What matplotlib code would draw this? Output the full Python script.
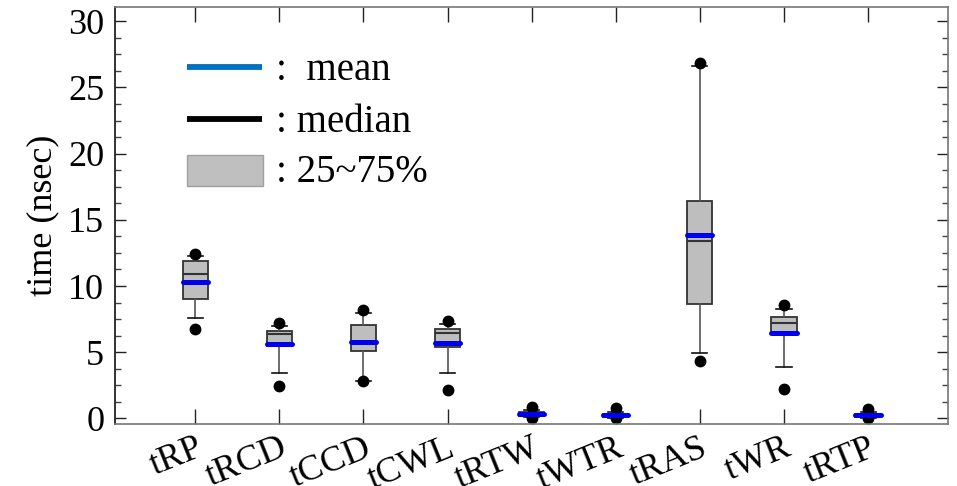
import matplotlib
matplotlib.use("Agg")
import matplotlib.pyplot as plt
from matplotlib.ticker import MultipleLocator
from matplotlib.patches import Rectangle
from matplotlib.lines import Line2D
from matplotlib.transforms import ScaledTranslation

plt.rcParams['font.family'] = ['Liberation Serif', 'DejaVu Serif']

categories = ['tRP', 'tRCD', 'tCCD', 'tCWL', 'tRTW', 'tWTR', 'tRAS', 'tWR', 'tRTP']
q1 = [9.04, 5.45, 5.09, 5.42, 0.18, 0.14, 8.62, 6.38, 0.12]
med = [10.93, 6.35, 5.80, 6.48, 0.32, 0.24, 13.40, 7.21, 0.22]
q3 = [11.90, 6.60, 7.06, 6.73, 0.48, 0.36, 16.39, 7.66, 0.34]
mean = [10.28, 5.65, 5.77, 5.70, 0.34, 0.24, 13.83, 6.48, 0.24]
whislo = [7.56, 3.46, 2.85, 3.41, 0.08, 0.06, 4.94, 3.89, 0.05]
whishi = [12.30, 6.98, 7.94, 7.13, 0.60, 0.51, 26.60, 8.24, 0.50]
flier_lo = [6.73, 2.48, 2.83, 2.13, 0.00, 0.00, 4.32, 2.25, 0.00]
flier_hi = [12.45, 7.23, 8.17, 7.38, 0.88, 0.82, 26.83, 8.59, 0.69]

fig = plt.figure(figsize=(9.57, 4.86), dpi=100)
ax = fig.add_axes([0.1205, 0.1276, 0.8701, 0.8574])

positions = list(range(1, len(categories) + 1))
stats = []
for i, c in enumerate(categories):
    stats.append(dict(label=c, q1=q1[i], med=med[i], q3=q3[i], mean=mean[i],
                      whislo=whislo[i], whishi=whishi[i],
                      fliers=[flier_lo[i], flier_hi[i]]))

ax.bxp(stats, positions=positions, widths=0.30, patch_artist=True,
       showmeans=False,
       boxprops=dict(facecolor='#bebebe', edgecolor='#333333', linewidth=1.3),
       medianprops=dict(color='#333333', linewidth=1.5),
       whiskerprops=dict(color='#555555', linewidth=1.2),
       capprops=dict(color='#111111', linewidth=1.2),
       capwidths=0.18,
       flierprops=dict(marker='o', markerfacecolor='black', markeredgecolor='black',
                       markersize=7.5, linestyle='none'),
       zorder=2)

ax.hlines(mean, [p - 0.15 for p in positions], [p + 0.15 for p in positions],
          colors='#0000ee', linewidth=3.6, capstyle='round', zorder=5)

ax.set_xlim(0.05, 9.95)
ax.set_ylim(-0.42, 31.05)
ax.set_xticks(positions)
ax.set_xticklabels(categories, rotation=22, ha='right', va='top',
                   rotation_mode='anchor', fontsize=26)
offset = ScaledTranslation(-5 / 100, 0, fig.dpi_scale_trans)
for lab in ax.get_xticklabels():
    lab.set_transform(lab.get_transform() + offset)
ax.yaxis.set_major_locator(MultipleLocator(5))
ax.yaxis.set_minor_locator(MultipleLocator(1.25))
ax.tick_params(axis='y', which='major', direction='in', length=8, width=1.0,
               left=True, right=True, labelsize=26, pad=8, color='#222222')
ax.tick_params(axis='y', which='minor', direction='in', length=4.3, width=1.0,
               left=True, right=True, color='#444444')
ax.tick_params(axis='x', which='major', direction='in', length=11, width=1.0,
               top=True, bottom=True, pad=5.5, color='#222222')
ax.set_ylabel('time (nsec)', fontsize=26, labelpad=6)

for s in ['top', 'right', 'bottom']:
    ax.spines[s].set_color('#777777')
    ax.spines[s].set_linewidth(1.2)
ax.spines['left'].set_color('#111111')
ax.spines['left'].set_linewidth(1.2)

# custom legend
ax.add_line(Line2D([0.0861, 0.1762], [0.8567, 0.8567], transform=ax.transAxes,
                   color='#0070c0', linewidth=4.2, solid_capstyle='butt'))
ax.add_line(Line2D([0.0861, 0.1762], [0.7319, 0.7319], transform=ax.transAxes,
                   color='black', linewidth=4.2, solid_capstyle='butt'))
ax.add_patch(Rectangle((0.0865, 0.5719), 0.0913, 0.0737, transform=ax.transAxes,
                       facecolor='#bfbfbf', edgecolor='#a0a0a0', linewidth=1.0))
ax.text(0.193, 0.8255, ':  mean', transform=ax.transAxes, fontsize=28, va='baseline')
ax.text(0.193, 0.7015, ': median', transform=ax.transAxes, fontsize=28, va='baseline')
ax.text(0.193, 0.5815, ': 25~75%', transform=ax.transAxes, fontsize=28, va='baseline')

fig.savefig('out.png', dpi=100)
